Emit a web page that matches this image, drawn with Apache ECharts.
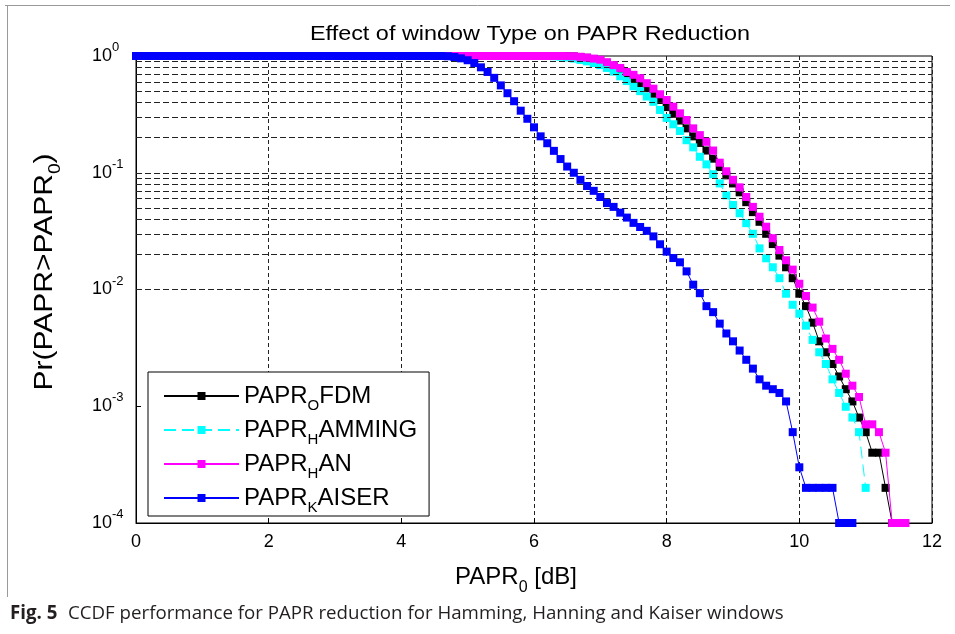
<!DOCTYPE html>
<html>
<head>
<meta charset="utf-8">
<script src="https://cdn.jsdelivr.net/npm/echarts@6/dist/echarts.min.js"></script>
<style>
  html, body { margin: 0; padding: 0; background: #fff; }
  #chart { width: 955px; height: 634px; }
</style>
</head>
<body>
<div id="chart"></div>
<script>
// PAPR threshold grid (dB), one CCDF sample every 0.1 dB
const paprGrid = [
  0.0, 0.1, 0.2, 0.3, 0.4, 0.5, 0.6, 0.7, 0.8, 0.9,
  1.0, 1.1, 1.2, 1.3, 1.4, 1.5, 1.6, 1.7, 1.8, 1.9,
  2.0, 2.1, 2.2, 2.3, 2.4, 2.5, 2.6, 2.7, 2.8, 2.9,
  3.0, 3.1, 3.2, 3.3, 3.4, 3.5, 3.6, 3.7, 3.8, 3.9,
  4.0, 4.1, 4.2, 4.3, 4.4, 4.5, 4.6, 4.7, 4.8, 4.9,
  5.0, 5.1, 5.2, 5.3, 5.4, 5.5, 5.6, 5.7, 5.8, 5.9,
  6.0, 6.1, 6.2, 6.3, 6.4, 6.5, 6.6, 6.7, 6.8, 6.9,
  7.0, 7.1, 7.2, 7.3, 7.4, 7.5, 7.6, 7.7, 7.8, 7.9,
  8.0, 8.1, 8.2, 8.3, 8.4, 8.5, 8.6, 8.7, 8.8, 8.9,
  9.0, 9.1, 9.2, 9.3, 9.4, 9.5, 9.6, 9.7, 9.8, 9.9,
  10.0, 10.1, 10.2, 10.3, 10.4, 10.5, 10.6, 10.7, 10.8, 10.9,
  11.0, 11.1, 11.2, 11.3, 11.4, 11.5, 11.6
];

// CCDF Pr(PAPR > PAPR0), plain OFDM (0.0 ... 11.4 dB)
const ccdfOfdm = [
  1, 1, 1, 1, 1, 1, 1, 1, 1, 1,
  1, 1, 1, 1, 1, 1, 1, 1, 1, 1,
  1, 1, 1, 1, 1, 1, 1, 1, 1, 1,
  1, 1, 1, 1, 1, 1, 1, 1, 1, 1,
  1, 1, 1, 1, 1, 1, 1, 1, 1, 1,
  1, 1, 1, 1, 1, 1, 1, 1, 1, 1,
  1, 1, 1, 1, 1,
  0.997, 0.992, 0.98, 0.965, 0.94, 0.91, 0.865, 0.815, 0.76, 0.70,
  0.645, 0.585, 0.53, 0.475, 0.42, 0.365, 0.32, 0.28, 0.24, 0.205,
  0.18, 0.155, 0.132, 0.112, 0.095, 0.081, 0.068, 0.056, 0.046, 0.038,
  0.030, 0.0245, 0.0195, 0.0155, 0.0125, 0.0092, 0.0072, 0.0052, 0.0036, 0.0029,
  0.0023, 0.0018, 0.0014, 0.0011, 0.0008, 0.0006, 0.0004, 0.0004, 0.0002, 0.0001
];

// Hamming window (0.0 ... 11.0 dB)
const ccdfHamming = [
  1, 1, 1, 1, 1, 1, 1, 1, 1, 1,
  1, 1, 1, 1, 1, 1, 1, 1, 1, 1,
  1, 1, 1, 1, 1, 1, 1, 1, 1, 1,
  1, 1, 1, 1, 1, 1, 1, 1, 1, 1,
  1, 1, 1, 1, 1, 1, 1, 1, 1, 1,
  1, 1, 1, 1, 1, 1, 1, 1, 1, 1,
  1, 1, 1,
  0.995, 0.985, 0.97, 0.95, 0.925, 0.9, 0.87, 0.835, 0.79, 0.735,
  0.67, 0.61, 0.55, 0.5, 0.45, 0.405, 0.345, 0.295, 0.26, 0.228,
  0.19, 0.165, 0.137, 0.118, 0.097, 0.081, 0.064, 0.053, 0.045, 0.037,
  0.030, 0.0225, 0.0185, 0.0155, 0.0125, 0.0092, 0.0074, 0.0062, 0.0049, 0.0037,
  0.0029, 0.0023, 0.0017, 0.0013, 0.00099, 0.0008, 0.0006, 0.0002
];

// Hanning window (0.0 ... 11.6 dB)
const ccdfHan = [
  1, 1, 1, 1, 1, 1, 1, 1, 1, 1,
  1, 1, 1, 1, 1, 1, 1, 1, 1, 1,
  1, 1, 1, 1, 1, 1, 1, 1, 1, 1,
  1, 1, 1, 1, 1, 1, 1, 1, 1, 1,
  1, 1, 1, 1, 1, 1, 1, 1, 1, 1,
  1, 1, 1, 1, 1, 1, 1, 1, 1, 1,
  1, 1, 1, 1, 1,
  0.998, 0.995, 0.985, 0.97, 0.95, 0.93, 0.885, 0.835, 0.79, 0.73,
  0.69, 0.645, 0.585, 0.525, 0.47, 0.42, 0.368, 0.323, 0.283, 0.24,
  0.21, 0.184, 0.155, 0.122, 0.103, 0.087, 0.075, 0.062, 0.051, 0.042,
  0.0345, 0.0275, 0.0218, 0.0178, 0.0148, 0.0112, 0.0088, 0.0070, 0.0053, 0.0038,
  0.0031, 0.0025, 0.0019, 0.0015, 0.0012, 0.0007, 0.0007, 0.0006, 0.0004, 0.0001,
  0.0001, 0.0001
];

// Kaiser window (0.0 ... 10.8 dB)
const ccdfKaiser = [
  1, 1, 1, 1, 1, 1, 1, 1, 1, 1,
  1, 1, 1, 1, 1, 1, 1, 1, 1, 1,
  1, 1, 1, 1, 1, 1, 1, 1, 1, 1,
  1, 1, 1, 1, 1, 1, 1, 1, 1, 1,
  1, 1, 1, 1, 1, 1, 1,
  0.995, 0.98, 0.955, 0.92, 0.87, 0.80, 0.73, 0.65, 0.56, 0.48,
  0.41, 0.34, 0.29, 0.245, 0.205, 0.179, 0.154, 0.131, 0.113, 0.100,
  0.087, 0.077, 0.070, 0.062, 0.055, 0.051, 0.0455, 0.0413, 0.0372, 0.0343,
  0.0318, 0.0285, 0.0244, 0.0211, 0.0186, 0.0171, 0.0143, 0.0110, 0.0093, 0.0072,
  0.0064, 0.0051, 0.0042, 0.0036, 0.0030, 0.0025, 0.0021, 0.0017, 0.0015, 0.0014,
  0.0013, 0.0011, 0.0006, 0.0003, 0.0002, 0.0002, 0.0002, 0.0002, 0.0002, 0.0001,
  0.0001, 0.0001
];

// Legend names: the character after "_" is a subscript
const seriesNames = ['PAPR_OFDM', 'PAPR_HAMMING', 'PAPR_HAN', 'PAPR_KAISER'];
const seriesColors = ['#000000', '#00ffff', '#ff00ff', '#0000ff'];
const xTickValues = [0, 2, 4, 6, 8, 10, 12];
const yTickExponents = [0, -1, -2, -3, -4];

const FONT = '"Liberation Sans", Arial, Helvetica, sans-serif';
const CAPTION_FONT = '"Open Sans", "Noto Sans", sans-serif';

function pairs(values) {
  return values.map((v, i) => [paprGrid[i], v]);
}

function subscriptName(name) {
  const m = name.match(/^(.*?)_(.)(.*)$/);
  if (!m) return '{b|' + name + '}';
  return '{b|' + m[1] + '}{s|' + m[2] + '}{b|' + m[3] + '}';
}

// horizontal dashed grid at every 1..9 x 10^k inside the axis range
const hGrid = [];
for (let k = -4; k <= -1; k++) {
  for (let m = 1; m <= 9; m++) {
    if (k === -4 && m === 1) continue;
    hGrid.push({ yAxis: m * Math.pow(10, k) });
  }
}

const curveData = [ccdfOfdm, ccdfHamming, ccdfHan, ccdfKaiser];

const curves = seriesNames.map((name, i) => ({
  name: name,
  type: 'line',
  data: pairs(curveData[i]),
  symbol: 'rect',
  symbolSize: 8,
  showAllSymbol: true,
  clip: false,
  z: 3 + i,
  lineStyle: {
    color: seriesColors[i],
    width: 1,
    type: i === 1 ? [12, 6] : 'solid'
  },
  itemStyle: { color: seriesColors[i] },
  emphasis: { disabled: true }
}));

const chart = echarts.init(document.getElementById('chart'), null, { renderer: 'canvas' });

chart.setOption({
  animation: false,
  backgroundColor: '#ffffff',
  grid: {
    left: 136, right: 23, top: 56, bottom: 111,
    show: true, borderColor: '#000', borderWidth: 1, backgroundColor: 'transparent'
  },
  xAxis: {
    type: 'value',
    min: 0, max: 12, interval: 2,
    axisLine: { show: true, lineStyle: { color: '#000', width: 1 } },
    axisTick: { show: true, inside: true, length: 5, lineStyle: { color: '#000' } },
    axisLabel: {
      color: '#000', fontSize: 18, fontFamily: FONT, margin: 10,
      formatter: v => (xTickValues.indexOf(v) >= 0 ? String(v) : '')
    },
    splitLine: { show: true, lineStyle: { color: '#222', width: 1, type: [4, 3] } }
  },
  yAxis: {
    type: 'log',
    logBase: 10,
    min: 1e-4, max: 1,
    axisLine: { show: true, lineStyle: { color: '#000', width: 1 } },
    axisTick: { show: true, inside: true, length: 5, lineStyle: { color: '#000' } },
    splitLine: { show: false },
    axisLabel: {
      align: 'left',
      margin: 44,
      formatter: v => {
        const e = Math.round(Math.log10(v));
        if (yTickExponents.indexOf(e) < 0) return '';
        return '{b|10}{p|' + e + '}';
      },
      rich: {
        b: { fontSize: 18, fontFamily: FONT, color: '#000', lineHeight: 30 },
        p: { fontSize: 13, fontFamily: FONT, color: '#000', lineHeight: 13, verticalAlign: 'top' }
      }
    }
  },
  legend: {
    data: seriesNames,
    orient: 'vertical',
    left: 148, top: 372,
    itemWidth: 75, itemHeight: 10, itemGap: 5,
    padding: [12, 12, 1, 15],
    borderColor: '#000', borderWidth: 1, backgroundColor: '#fff',
    selectedMode: false,
    formatter: name => subscriptName(name),
    textStyle: {
      color: '#000',
      rich: {
        b: { fontSize: 24, fontFamily: FONT, color: '#000', lineHeight: 34 },
        s: { fontSize: 15, fontFamily: FONT, color: '#000', lineHeight: 15, verticalAlign: 'bottom' }
      }
    }
  },
  graphic: [
    { type: 'line', silent: true, shape: { x1: 5, y1: 5.5, x2: 950, y2: 5.5 }, style: { stroke: '#9a9a9a', lineWidth: 1 } },
    { type: 'line', silent: true, shape: { x1: 7.5, y1: 5, x2: 7.5, y2: 597 }, style: { stroke: '#9a9a9a', lineWidth: 1 } },
    {
      type: 'text', silent: true, x: 530, y: 35, scaleX: 1.2,
      style: {
        text: 'Effect of window Type on PAPR Reduction',
        fontSize: 19.5, fontFamily: FONT, fill: '#000', align: 'center', verticalAlign: 'middle'
      }
    },
    {
      type: 'text', silent: true, x: 516, y: 577,
      style: {
        text: '{b|PAPR}{s|0}{b| [dB]}',
        align: 'center', verticalAlign: 'middle',
        rich: {
          b: { fontSize: 24, fontFamily: FONT, fill: '#000', color: '#000', lineHeight: 38 },
          s: { fontSize: 16, fontFamily: FONT, fill: '#000', color: '#000', lineHeight: 16, verticalAlign: 'bottom' }
        }
      }
    },
    {
      type: 'text', silent: true, x: 45, y: 272, rotation: Math.PI / 2, scaleX: 1.2,
      style: {
        text: '{b|Pr(PAPR>PAPR}{s|0}{b|)}',
        align: 'center', verticalAlign: 'middle',
        rich: {
          b: { fontSize: 25, fontFamily: FONT, fill: '#000', color: '#000', lineHeight: 38 },
          s: { fontSize: 16, fontFamily: FONT, fill: '#000', color: '#000', lineHeight: 16, verticalAlign: 'bottom' }
        }
      }
    },
    {
      type: 'text', silent: true, x: 10, y: 614,
      style: {
        text: 'Fig. 5',
        fontSize: 18.7, fontWeight: 'bold', fontFamily: CAPTION_FONT,
        fill: '#231f20', align: 'left', verticalAlign: 'middle'
      }
    },
    {
      type: 'text', silent: true, x: 68, y: 614,
      style: {
        text: 'CCDF performance for PAPR reduction for Hamming, Hanning and Kaiser windows',
        fontSize: 18.7, fontFamily: CAPTION_FONT,
        fill: '#231f20', align: 'left', verticalAlign: 'middle'
      }
    }
  ],
  series: [
    {
      name: 'gridlines',
      type: 'line',
      data: [[0, 1e-4]],
      symbol: 'none',
      lineStyle: { width: 0, opacity: 0 },
      silent: true,
      z: 1,
      markLine: {
        silent: true,
        symbol: ['none', 'none'],
        label: { show: false },
        emphasis: { disabled: true },
        lineStyle: { color: '#222', width: 1, type: [6, 3] },
        data: hGrid
      }
    }
  ].concat(curves)
});
</script>
</body>
</html>
